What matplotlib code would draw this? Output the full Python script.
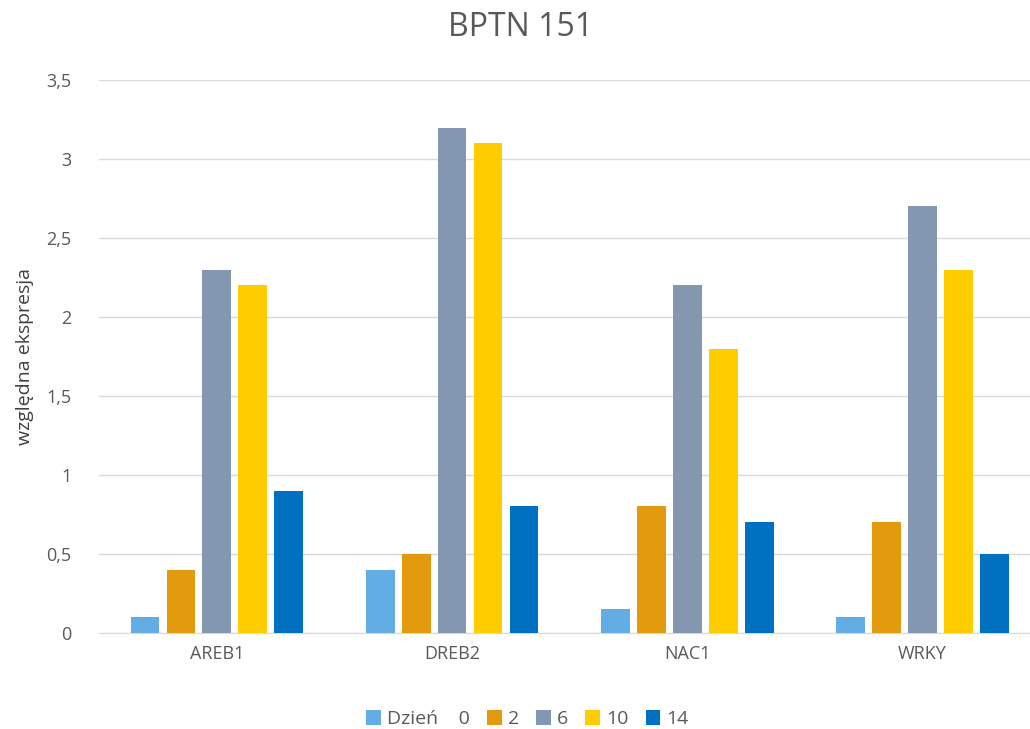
import numpy as np
import matplotlib
matplotlib.use("Agg")
import matplotlib.pyplot as plt

plt.rcParams['font.family'] = ['Open Sans', 'DejaVu Sans']

genes = ['AREB1', 'DREB2', 'NAC1', 'WRKY']
series = ['Dzień    0', '2', '6', '10', '14']
values = [
    [0.1, 0.4, 0.15, 0.1],
    [0.4, 0.5, 0.8, 0.7],
    [2.3, 3.2, 2.2, 2.7],
    [2.2, 3.1, 1.8, 2.3],
    [0.9, 0.8, 0.7, 0.5],
]
colors = ['#62ADE4', '#E2990B', '#8497B0', '#FFCC00', '#0070C0']
ticks = [0, 0.5, 1, 1.5, 2, 2.5, 3, 3.5]
tick_labels = ['0', '0,5', '1', '1,5', '2', '2,5', '3', '3,5']

fig = plt.figure(figsize=(10.3, 7.29), dpi=100)
# plot area runs past the right edge, like the original
ax = fig.add_axes([0.0965, 0.132, 0.913, 0.758])

x = np.arange(len(genes))
step = 0.153
width = 0.123
for i, (name, vals, c) in enumerate(zip(series, values, colors)):
    ax.bar(x + (i - 2) * step, vals, width, color=c, label=name, zorder=3)

ax.set_xlim(-0.5, len(genes) - 0.5)
ax.set_ylim(0, 3.5)
ax.set_yticks(ticks)
ax.set_yticklabels(tick_labels)
ax.set_xticks(x)
ax.set_xticklabels(genes)
ax.tick_params(axis='both', length=0, labelsize=13, colors='#595959')
ax.tick_params(axis='y', pad=20)
ax.tick_params(axis='x', pad=9)
ax.grid(axis='y', color='#D9D9D9', linewidth=1, zorder=0)
for s in ['top', 'right', 'left']:
    ax.spines[s].set_visible(False)
ax.spines['bottom'].set_color('#D9D9D9')
ax.set_ylabel('względna ekspresja', fontsize=14, color='#404040', labelpad=9)

fig.suptitle('BPTN 151', fontsize=23, color='#595959', x=0.505, y=0.985)
fig.legend(loc='lower center', ncol=5, frameon=False, fontsize=14,
           handlelength=0.75, handleheight=0.75, handletextpad=0.3,
           columnspacing=0.9, bbox_to_anchor=(0.512, -0.023), labelcolor='#595959')

fig.savefig('out.png', dpi=100)
